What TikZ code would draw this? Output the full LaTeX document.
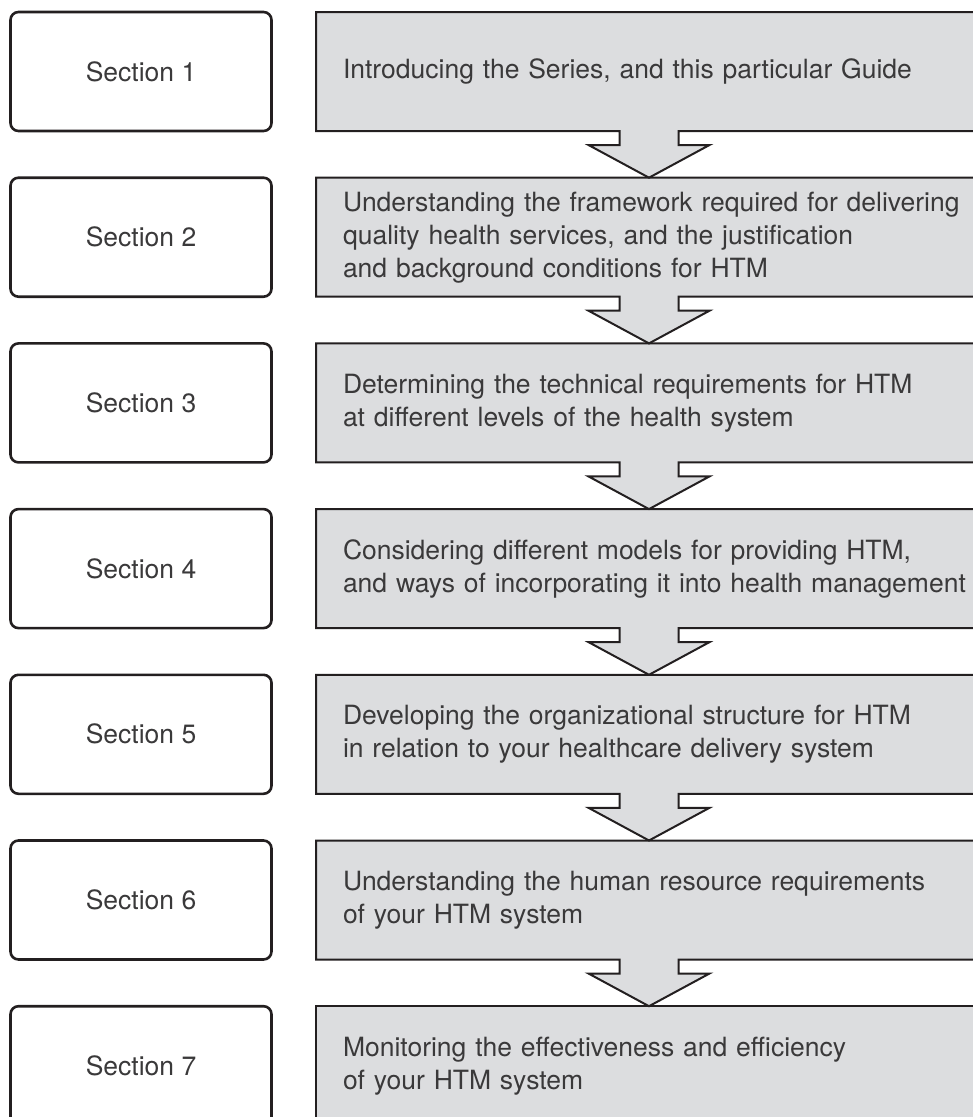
\documentclass[tikz,border=0pt]{standalone}
\usepackage{fontspec}
\setmainfont{TeX Gyre Heros}
\usetikzlibrary{calc}
\definecolor{ink}{HTML}{231F20}
\definecolor{panel}{HTML}{DCDDDF}
\definecolor{txt}{HTML}{3A393A}
\tikzset{
  secbox/.style={draw=ink, line width=2.6pt, rounded corners=8pt, fill=white,
    minimum width=261pt, minimum height=119pt, text=txt, font=\fontsize{26.5}{31}\selectfont},
  topicbox/.style={fill=panel, anchor=north west, outer sep=0pt,
    minimum height=119pt, text width=680pt, inner xsep=27pt, align=left,
    text=txt, font=\fontsize{26.5}{33}\selectfont},
  outline/.style={draw=ink, line width=2pt, line join=miter},
}
% outline of topic box #1 with a down arrow from its bottom onto box #2
\newcommand{\flowdown}[2]{%
  \path ($(#1.south west)+(333,0)$) coordinate (#1base);
  \fill[panel] ($(#1base)+(-29.5,-2)$) -- ($(#1base)+(-29.5,14)$) -- ($(#1base)+(-60.5,14)$)
     -- ($(#1base |- #2.north)$) -- ($(#1base)+(60.5,14)$) -- ($(#1base)+(29.5,14)$)
     -- ($(#1base)+(29.5,-2)$) -- cycle;
  \draw[outline] (#1.north east) -- (#1.north west) -- (#1.south west)
     -- ($(#1base)+(-29.5,0)$) -- ($(#1base)+(-29.5,14)$) -- ($(#1base)+(-60.5,14)$)
     -- ($(#1base |- #2.north)$) -- ($(#1base)+(60.5,14)$) -- ($(#1base)+(29.5,14)$)
     -- ($(#1base)+(29.5,0)$) -- (#1.south east);
}
\begin{document}
\begin{tikzpicture}[x=1pt, y=-1pt]
\useasboundingbox (0,0) rectangle (973,1117);
\clip (0,0) rectangle (973,1117);

% left column: section labels
\foreach \i in {1,...,7} {
  \node[secbox] (s\i) at (141, {71.5+(\i-1)*165.7}) {Section \i};
}

% right column: topics
\node[topicbox] (g1) at (316, 12) {Introducing the Series, and this particular Guide};
\node[topicbox] (g2) at (316, {12+165.7}) {Understanding the framework required for delivering\\quality health services, and the justification\\and background conditions for HTM};
\node[topicbox] (g3) at (316, {12+2*165.7}) {Determining the technical requirements for HTM\\at different levels of the health system};
\node[topicbox] (g4) at (316, {12+3*165.7}) {Considering different models for providing HTM,\\and ways of incorporating it into health management};
\node[topicbox] (g5) at (316, {12+4*165.7}) {Developing the organizational structure for HTM\\in relation to your healthcare delivery system};
\node[topicbox] (g6) at (316, {12+5*165.7}) {Understanding the human resource requirements\\of your HTM system};
\node[topicbox] (g7) at (316, {12+6*165.7}) {Monitoring the effectiveness and efficiency\\of your HTM system};

% outlines, with the down arrows between consecutive topics
\flowdown{g1}{g2}
\flowdown{g2}{g3}
\flowdown{g3}{g4}
\flowdown{g4}{g5}
\flowdown{g5}{g6}
\flowdown{g6}{g7}
\draw[outline] (g7.north east) -- (g7.north west) -- (g7.south west) -- (g7.south east);
\end{tikzpicture}
\end{document}
